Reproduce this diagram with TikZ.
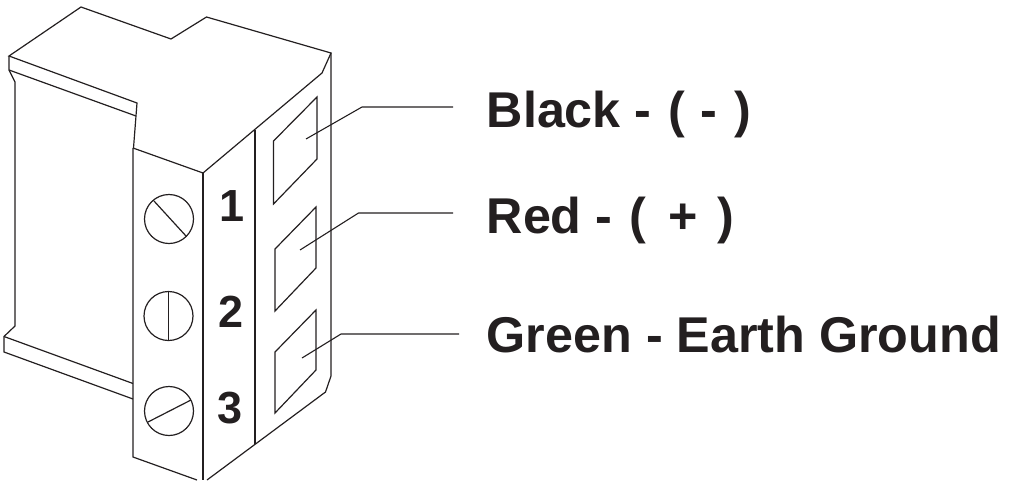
\documentclass[tikz,border=0pt]{standalone}
\usepackage{fontspec}
\setmainfont{Liberation Sans}
\definecolor{ink}{HTML}{231F20}
\tikzset{
  part/.style={draw=ink,line width=1.2pt,line join=miter,fill=none},
  lead/.style={draw=ink,line width=1.1pt},
  lbl/.style={text=ink,font=\fontsize{50.3}{50.3}\selectfont\bfseries,anchor=base west,inner sep=0pt},
  num/.style={text=ink,font=\fontsize{45}{45}\selectfont\bfseries,anchor=base,inner sep=0pt}
}
\begin{document}
\begin{tikzpicture}[x=1pt,y=-1pt]
\useasboundingbox (0,0) rectangle (1014,480);
% top outline
\draw[part] (133.5,148) -- (137,103) -- (9,56) -- (81,7) -- (171,39) -- (206.5,17) -- (331,53) -- (322,73) -- (203,173) -- (133,148);
\draw[part] (9,56) -- (9,70) -- (15,82) -- (15,326) -- (4,336.5) -- (4,352) -- (133,399);
\draw[part] (9,70) -- (136,116);
\draw[part] (4,336.5) -- (133,383.5);
\draw[part] (331,53) -- (331,376) -- (325.5,392) -- (207,480);
\draw[part] (133,148) -- (133,457) -- (197,480);
\draw[part] (203,173) -- (203,480);
\draw[part] (255,130) -- (255,444);
% windows
\draw[part] (317,97) -- (317,159) -- (273.5,204) -- (273.5,141) -- cycle;
\draw[part] (316,207) -- (316,268) -- (275,311) -- (275,249) -- cycle;
\draw[part] (316,310) -- (316,370) -- (275,413) -- (275,352) -- cycle;
% screws
\node[part,circle,minimum size=49pt,inner sep=0pt] (s1) at (169,219) {};
\node[part,circle,minimum size=49pt,inner sep=0pt] (s2) at (168.5,316) {};
\node[part,circle,minimum size=49pt,inner sep=0pt] (s3) at (169,411) {};
\draw[part] (154,201) -- (186,236);
\draw[part] (168.5,292) -- (168.5,340);
\draw[part] (148,422) -- (191,400);
% numbers
\node[num] (n1) at (232,221) {1};
\node[num] (n2) at (231,327) {2};
\node[num] (n3) at (230.5,423.5) {3};
% labels
\node[lbl] (l1) at (486.5,127.5) {Black - \hspace{3pt}(\hspace{1pt} - \hspace{3pt})};
\node[lbl] (l2) at (486.5,233) {Red - \hspace{3pt}(\hspace{8pt} +\hspace{6pt} )};
\node[lbl] (l3) at (486.5,352) {Green - Earth Ground};
\coordinate (e1) at (453,107); \coordinate (e2) at (453,213); \coordinate (e3) at (459,334);
\draw[lead] (e1) -- (362,107) -- (306,139);
\draw[lead] (e2) -- (358.5,213) -- (300,250);
\draw[lead] (e3) -- (341,334) -- (302,358);
\end{tikzpicture}
\end{document}
